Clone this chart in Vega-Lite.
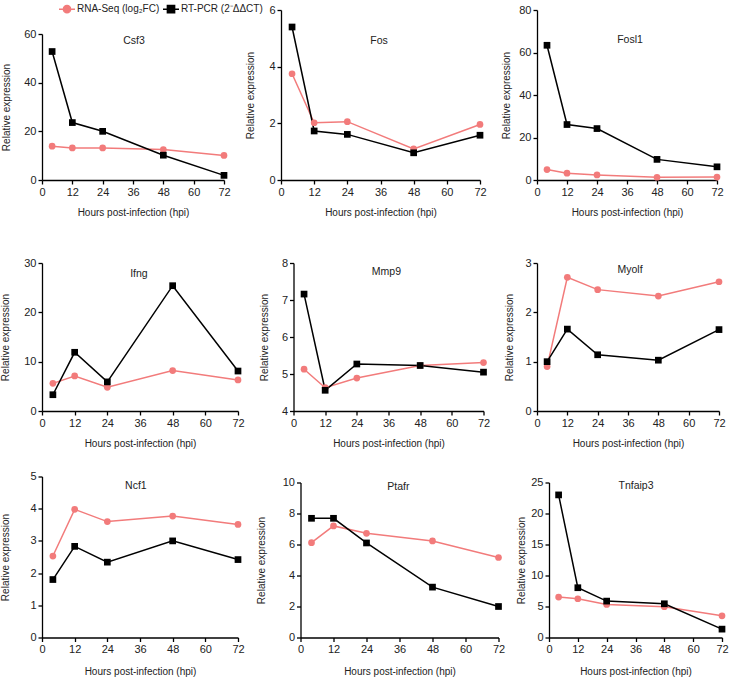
{
"$schema": "https://vega.github.io/schema/vega-lite/v6.json",
"padding": {"top": 0, "left": 0, "right": 2, "bottom": 1},
"background": "white",
"config": {
  "view": {"stroke": null},
  "axis": {"grid": false, "domainColor": "#000", "tickColor": "#000", "domainWidth": 1.3, "tickWidth": 1.3, "tickSize": 4, "labelFont": "Liberation Sans", "labelFontSize": 11, "labelColor": "#222", "labelPadding": 2, "labelFlush": false, "labelOverlap": false, "titleFont": "Liberation Sans", "titleFontSize": 10, "titleFontWeight": "normal", "titleColor": "#222"},
  "axisX": {"titlePadding": 10}
},
"datasets": {"d": [
 {"gene": "Csf3", "hpi": 4, "method": "RNA", "value": 13.9},
 {"gene": "Csf3", "hpi": 12, "method": "RNA", "value": 13.2},
 {"gene": "Csf3", "hpi": 24, "method": "RNA", "value": 13.2},
 {"gene": "Csf3", "hpi": 48, "method": "RNA", "value": 12.5},
 {"gene": "Csf3", "hpi": 72, "method": "RNA", "value": 10.1},
 {"gene": "Csf3", "hpi": 4, "method": "PCR", "value": 52.8},
 {"gene": "Csf3", "hpi": 12, "method": "PCR", "value": 23.6},
 {"gene": "Csf3", "hpi": 24, "method": "PCR", "value": 20.0},
 {"gene": "Csf3", "hpi": 48, "method": "PCR", "value": 10.2},
 {"gene": "Csf3", "hpi": 72, "method": "PCR", "value": 1.9},
 {"gene": "Fos", "hpi": 4, "method": "RNA", "value": 3.75},
 {"gene": "Fos", "hpi": 12, "method": "RNA", "value": 2.02},
 {"gene": "Fos", "hpi": 24, "method": "RNA", "value": 2.06},
 {"gene": "Fos", "hpi": 48, "method": "RNA", "value": 1.1},
 {"gene": "Fos", "hpi": 72, "method": "RNA", "value": 1.96},
 {"gene": "Fos", "hpi": 4, "method": "PCR", "value": 5.4},
 {"gene": "Fos", "hpi": 12, "method": "PCR", "value": 1.73},
 {"gene": "Fos", "hpi": 24, "method": "PCR", "value": 1.61},
 {"gene": "Fos", "hpi": 48, "method": "PCR", "value": 0.96},
 {"gene": "Fos", "hpi": 72, "method": "PCR", "value": 1.58},
 {"gene": "Fosl1", "hpi": 4, "method": "RNA", "value": 4.9},
 {"gene": "Fosl1", "hpi": 12, "method": "RNA", "value": 3.2},
 {"gene": "Fosl1", "hpi": 24, "method": "RNA", "value": 2.4},
 {"gene": "Fosl1", "hpi": 48, "method": "RNA", "value": 1.3},
 {"gene": "Fosl1", "hpi": 72, "method": "RNA", "value": 1.4},
 {"gene": "Fosl1", "hpi": 4, "method": "PCR", "value": 63.4},
 {"gene": "Fosl1", "hpi": 12, "method": "PCR", "value": 26.1},
 {"gene": "Fosl1", "hpi": 24, "method": "PCR", "value": 24.2},
 {"gene": "Fosl1", "hpi": 48, "method": "PCR", "value": 9.7},
 {"gene": "Fosl1", "hpi": 72, "method": "PCR", "value": 6.2},
 {"gene": "Ifng", "hpi": 4, "method": "RNA", "value": 5.6},
 {"gene": "Ifng", "hpi": 12, "method": "RNA", "value": 7.1},
 {"gene": "Ifng", "hpi": 24, "method": "RNA", "value": 4.8},
 {"gene": "Ifng", "hpi": 48, "method": "RNA", "value": 8.2},
 {"gene": "Ifng", "hpi": 72, "method": "RNA", "value": 6.3},
 {"gene": "Ifng", "hpi": 4, "method": "PCR", "value": 3.3},
 {"gene": "Ifng", "hpi": 12, "method": "PCR", "value": 11.9},
 {"gene": "Ifng", "hpi": 24, "method": "PCR", "value": 5.9},
 {"gene": "Ifng", "hpi": 48, "method": "PCR", "value": 25.4},
 {"gene": "Ifng", "hpi": 72, "method": "PCR", "value": 8.1},
 {"gene": "Mmp9", "hpi": 4, "method": "RNA", "value": 5.13},
 {"gene": "Mmp9", "hpi": 12, "method": "RNA", "value": 4.63},
 {"gene": "Mmp9", "hpi": 24, "method": "RNA", "value": 4.89},
 {"gene": "Mmp9", "hpi": 48, "method": "RNA", "value": 5.23},
 {"gene": "Mmp9", "hpi": 72, "method": "RNA", "value": 5.31},
 {"gene": "Mmp9", "hpi": 4, "method": "PCR", "value": 7.16},
 {"gene": "Mmp9", "hpi": 12, "method": "PCR", "value": 4.56},
 {"gene": "Mmp9", "hpi": 24, "method": "PCR", "value": 5.27},
 {"gene": "Mmp9", "hpi": 48, "method": "PCR", "value": 5.23},
 {"gene": "Mmp9", "hpi": 72, "method": "PCR", "value": 5.05},
 {"gene": "Myolf", "hpi": 4, "method": "RNA", "value": 0.9},
 {"gene": "Myolf", "hpi": 12, "method": "RNA", "value": 2.71},
 {"gene": "Myolf", "hpi": 24, "method": "RNA", "value": 2.46},
 {"gene": "Myolf", "hpi": 48, "method": "RNA", "value": 2.33},
 {"gene": "Myolf", "hpi": 72, "method": "RNA", "value": 2.62},
 {"gene": "Myolf", "hpi": 4, "method": "PCR", "value": 1.0},
 {"gene": "Myolf", "hpi": 12, "method": "PCR", "value": 1.66},
 {"gene": "Myolf", "hpi": 24, "method": "PCR", "value": 1.14},
 {"gene": "Myolf", "hpi": 48, "method": "PCR", "value": 1.03},
 {"gene": "Myolf", "hpi": 72, "method": "PCR", "value": 1.65},
 {"gene": "Ncf1", "hpi": 4, "method": "RNA", "value": 2.53},
 {"gene": "Ncf1", "hpi": 12, "method": "RNA", "value": 3.98},
 {"gene": "Ncf1", "hpi": 24, "method": "RNA", "value": 3.6},
 {"gene": "Ncf1", "hpi": 48, "method": "RNA", "value": 3.77},
 {"gene": "Ncf1", "hpi": 72, "method": "RNA", "value": 3.51},
 {"gene": "Ncf1", "hpi": 4, "method": "PCR", "value": 1.8},
 {"gene": "Ncf1", "hpi": 12, "method": "PCR", "value": 2.83},
 {"gene": "Ncf1", "hpi": 24, "method": "PCR", "value": 2.34},
 {"gene": "Ncf1", "hpi": 48, "method": "PCR", "value": 3.0},
 {"gene": "Ncf1", "hpi": 72, "method": "PCR", "value": 2.42},
 {"gene": "Ptafr", "hpi": 4, "method": "RNA", "value": 6.12},
 {"gene": "Ptafr", "hpi": 12, "method": "RNA", "value": 7.2},
 {"gene": "Ptafr", "hpi": 24, "method": "RNA", "value": 6.72},
 {"gene": "Ptafr", "hpi": 48, "method": "RNA", "value": 6.23},
 {"gene": "Ptafr", "hpi": 72, "method": "RNA", "value": 5.16},
 {"gene": "Ptafr", "hpi": 4, "method": "PCR", "value": 7.69},
 {"gene": "Ptafr", "hpi": 12, "method": "PCR", "value": 7.69},
 {"gene": "Ptafr", "hpi": 24, "method": "PCR", "value": 6.1},
 {"gene": "Ptafr", "hpi": 48, "method": "PCR", "value": 3.25},
 {"gene": "Ptafr", "hpi": 72, "method": "PCR", "value": 2.0},
 {"gene": "Tnfaip3", "hpi": 4, "method": "RNA", "value": 6.52},
 {"gene": "Tnfaip3", "hpi": 12, "method": "RNA", "value": 6.25},
 {"gene": "Tnfaip3", "hpi": 24, "method": "RNA", "value": 5.33},
 {"gene": "Tnfaip3", "hpi": 48, "method": "RNA", "value": 4.96},
 {"gene": "Tnfaip3", "hpi": 72, "method": "RNA", "value": 3.5},
 {"gene": "Tnfaip3", "hpi": 4, "method": "PCR", "value": 23.0},
 {"gene": "Tnfaip3", "hpi": 12, "method": "PCR", "value": 8.03},
 {"gene": "Tnfaip3", "hpi": 24, "method": "PCR", "value": 5.87},
 {"gene": "Tnfaip3", "hpi": 48, "method": "PCR", "value": 5.44},
 {"gene": "Tnfaip3", "hpi": 72, "method": "PCR", "value": 1.35}
]},
"data": {"name": "d"},
"spacing": 40,
"vconcat": [
 {"hconcat": [
  {"width": 182, "height": 170,
   "transform": [{"filter": "datum.gene == 'Csf3'"}],
   "encoding": {
     "x": {"field": "hpi", "type": "quantitative", "scale": {"domain": [0, 72], "nice": false}, "axis": {"title": "Hours post-infection (hpi)", "values": [0, 12, 24, 36, 48, 60, 72]}},
     "y": {"field": "value", "type": "quantitative", "scale": {"domain": [0, 60], "nice": false, "range": [170, 24]}, "axis": {"title": "Relative expression", "values": [0, 20, 40, 60], "titlePadding": 12}},
     "color": {"field": "method", "type": "nominal", "scale": {"domain": ["RNA", "PCR"], "range": ["#F27B7B", "#000000"]},
       "legend": {"orient": "none", "legendX": 16, "legendY": -10, "direction": "horizontal", "title": null, "padding": 0, "symbolSize": 256, "symbolStrokeWidth": 1.5, "labelFont": "Liberation Sans", "labelFontSize": 10, "labelColor": "#222", "labelOffset": 1, "columnPadding": 0,
         "labelExpr": "datum.value == 'RNA' ? 'RNA-Seq (log₂FC)' : 'RT-PCR (2⁻ΔΔCT)'",
         "encode": {"symbols": {"update": {
           "shape": {"signal": "datum.value == 'RNA' ? 'M-1,0H1M0.45,0A0.45,0.45,0,1,1,-0.45,0A0.45,0.45,0,1,1,0.45,0Z' : 'M-1,0H1M-0.45,-0.45H0.45V0.45H-0.45Z'"},
           "fill": {"signal": "datum.value == 'RNA' ? '#F27B7B' : '#000000'"},
           "stroke": {"signal": "datum.value == 'RNA' ? '#F27B7B' : '#000000'"},
           "strokeWidth": {"value": 1.5},
           "opacity": {"value": 1}}}}}}
   },
   "layer": [
     {"mark": {"type": "line", "strokeWidth": 1.5}},
     {"mark": {"type": "point", "filled": true, "opacity": 1, "size": 45}, "encoding": {"shape": {"condition": {"test": "datum.method == 'RNA'", "value": "circle"}, "value": "square"}}},
     {"transform": [{"filter": "datum.hpi == 4 && datum.method == 'PCR'"}], "mark": {"type": "text", "fontSize": 10.5, "font": "Liberation Sans"}, "encoding": {"x": {"datum": 36.4}, "y": {"datum": 57}, "text": {"value": "Csf3"}, "color": {"value": "#222"}}}
   ]},
  {"width": 199, "height": 170,
   "transform": [{"filter": "datum.gene == 'Fos'"}],
   "encoding": {
     "x": {"field": "hpi", "type": "quantitative", "scale": {"domain": [0, 72], "nice": false}, "axis": {"title": "Hours post-infection (hpi)", "values": [0, 12, 24, 36, 48, 60, 72]}},
     "y": {"field": "value", "type": "quantitative", "scale": {"domain": [0, 6], "nice": false}, "axis": {"title": "Relative expression", "values": [0, 2, 4, 6], "titlePadding": 13}},
     "color": {"field": "method", "type": "nominal", "scale": {"domain": ["RNA", "PCR"], "range": ["#F27B7B", "#000000"]}, "legend": null}
   },
   "layer": [
     {"mark": {"type": "line", "strokeWidth": 1.5}},
     {"mark": {"type": "point", "filled": true, "opacity": 1, "size": 45}, "encoding": {"shape": {"condition": {"test": "datum.method == 'RNA'", "value": "circle"}, "value": "square"}}},
     {"transform": [{"filter": "datum.hpi == 4 && datum.method == 'PCR'"}], "mark": {"type": "text", "fontSize": 10.5, "font": "Liberation Sans"}, "encoding": {"x": {"datum": 35.5}, "y": {"datum": 4.9}, "text": {"value": "Fos"}, "color": {"value": "#222"}}}
   ]},
  {"width": 180, "height": 170,
   "transform": [{"filter": "datum.gene == 'Fosl1'"}],
   "encoding": {
     "x": {"field": "hpi", "type": "quantitative", "scale": {"domain": [0, 72], "nice": false}, "axis": {"title": "Hours post-infection (hpi)", "values": [0, 12, 24, 36, 48, 60, 72]}},
     "y": {"field": "value", "type": "quantitative", "scale": {"domain": [0, 80], "nice": false}, "axis": {"title": "Relative expression", "values": [0, 20, 40, 60, 80], "titlePadding": 7}},
     "color": {"field": "method", "type": "nominal", "scale": {"domain": ["RNA", "PCR"], "range": ["#F27B7B", "#000000"]}, "legend": null}
   },
   "layer": [
     {"mark": {"type": "line", "strokeWidth": 1.5}},
     {"mark": {"type": "point", "filled": true, "opacity": 1, "size": 45}, "encoding": {"shape": {"condition": {"test": "datum.method == 'RNA'", "value": "circle"}, "value": "square"}}},
     {"transform": [{"filter": "datum.hpi == 4 && datum.method == 'PCR'"}], "mark": {"type": "text", "fontSize": 10.5, "font": "Liberation Sans"}, "encoding": {"x": {"datum": 37.2}, "y": {"datum": 65.8}, "text": {"value": "Fosl1"}, "color": {"value": "#222"}}}
   ]}
 ], "spacing": 14},
 {"vconcat": [
  {"hconcat": [
   {"width": 196, "height": 148,
    "transform": [{"filter": "datum.gene == 'Ifng'"}],
    "encoding": {
      "x": {"field": "hpi", "type": "quantitative", "scale": {"domain": [0, 72], "nice": false}, "axis": {"title": "Hours post-infection (hpi)", "values": [0, 12, 24, 36, 48, 60, 72]}},
      "y": {"field": "value", "type": "quantitative", "scale": {"domain": [0, 30], "nice": false}, "axis": {"title": "Relative expression", "values": [0, 10, 20, 30], "titlePadding": 13}},
      "color": {"field": "method", "type": "nominal", "scale": {"domain": ["RNA", "PCR"], "range": ["#F27B7B", "#000000"]}, "legend": null}
    },
    "layer": [
      {"mark": {"type": "line", "strokeWidth": 1.5}},
      {"mark": {"type": "point", "filled": true, "opacity": 1, "size": 45}, "encoding": {"shape": {"condition": {"test": "datum.method == 'RNA'", "value": "circle"}, "value": "square"}}},
      {"transform": [{"filter": "datum.hpi == 4 && datum.method == 'PCR'"}], "mark": {"type": "text", "fontSize": 10.5, "font": "Liberation Sans"}, "encoding": {"x": {"datum": 35.6}, "y": {"datum": 27.8}, "text": {"value": "Ifng"}, "color": {"value": "#222"}}}
    ]},
   {"width": 190, "height": 148,
    "transform": [{"filter": "datum.gene == 'Mmp9'"}],
    "encoding": {
      "x": {"field": "hpi", "type": "quantitative", "scale": {"domain": [0, 72], "nice": false}, "axis": {"title": "Hours post-infection (hpi)", "values": [0, 12, 24, 36, 48, 60, 72]}},
      "y": {"field": "value", "type": "quantitative", "scale": {"domain": [4, 8], "nice": false, "zero": false}, "axis": {"title": "Relative expression", "values": [4, 5, 6, 7, 8], "titlePadding": 12}},
      "color": {"field": "method", "type": "nominal", "scale": {"domain": ["RNA", "PCR"], "range": ["#F27B7B", "#000000"]}, "legend": null}
    },
    "layer": [
      {"mark": {"type": "line", "strokeWidth": 1.5}},
      {"mark": {"type": "point", "filled": true, "opacity": 1, "size": 45}, "encoding": {"shape": {"condition": {"test": "datum.method == 'RNA'", "value": "circle"}, "value": "square"}}},
      {"transform": [{"filter": "datum.hpi == 4 && datum.method == 'PCR'"}], "mark": {"type": "text", "fontSize": 10.5, "font": "Liberation Sans"}, "encoding": {"x": {"datum": 35.2}, "y": {"datum": 7.76}, "text": {"value": "Mmp9"}, "color": {"value": "#222"}}}
    ]},
   {"width": 182, "height": 148,
    "transform": [{"filter": "datum.gene == 'Myolf'"}],
    "encoding": {
      "x": {"field": "hpi", "type": "quantitative", "scale": {"domain": [0, 72], "nice": false}, "axis": {"title": "Hours post-infection (hpi)", "values": [0, 12, 24, 36, 48, 60, 72]}},
      "y": {"field": "value", "type": "quantitative", "scale": {"domain": [0, 3], "nice": false}, "axis": {"title": "Relative expression", "values": [0, 1, 2, 3], "titlePadding": 10}},
      "color": {"field": "method", "type": "nominal", "scale": {"domain": ["RNA", "PCR"], "range": ["#F27B7B", "#000000"]}, "legend": null}
    },
    "layer": [
      {"mark": {"type": "line", "strokeWidth": 1.5}},
      {"mark": {"type": "point", "filled": true, "opacity": 1, "size": 45}, "encoding": {"shape": {"condition": {"test": "datum.method == 'RNA'", "value": "circle"}, "value": "square"}}},
      {"transform": [{"filter": "datum.hpi == 4 && datum.method == 'PCR'"}], "mark": {"type": "text", "fontSize": 10.5, "font": "Liberation Sans"}, "encoding": {"x": {"datum": 36.8}, "y": {"datum": 2.86}, "text": {"value": "Myolf"}, "color": {"value": "#222"}}}
    ]}
  ], "spacing": 13.5},
  {"hconcat": [
   {"width": 196, "height": 161,
    "transform": [{"filter": "datum.gene == 'Ncf1'"}],
    "encoding": {
      "x": {"field": "hpi", "type": "quantitative", "scale": {"domain": [0, 72], "nice": false}, "axis": {"title": "Hours post-infection (hpi)", "values": [0, 12, 24, 36, 48, 60, 72], "titlePadding": 12}},
      "y": {"field": "value", "type": "quantitative", "scale": {"domain": [0, 5], "nice": false}, "axis": {"title": "Relative expression", "values": [0, 1, 2, 3, 4, 5], "titlePadding": 19}},
      "color": {"field": "method", "type": "nominal", "scale": {"domain": ["RNA", "PCR"], "range": ["#F27B7B", "#000000"]}, "legend": null}
    },
    "layer": [
      {"mark": {"type": "line", "strokeWidth": 1.5}},
      {"mark": {"type": "point", "filled": true, "opacity": 1, "size": 45}, "encoding": {"shape": {"condition": {"test": "datum.method == 'RNA'", "value": "circle"}, "value": "square"}}},
      {"transform": [{"filter": "datum.hpi == 4 && datum.method == 'PCR'"}], "mark": {"type": "text", "fontSize": 10.5, "font": "Liberation Sans"}, "encoding": {"x": {"datum": 34.5}, "y": {"datum": 4.72}, "text": {"value": "Ncf1"}, "color": {"value": "#222"}}}
    ]},
   {"width": 198, "height": 161,
    "transform": [{"filter": "datum.gene == 'Ptafr'"}],
    "encoding": {
      "x": {"field": "hpi", "type": "quantitative", "scale": {"domain": [0, 72], "nice": false}, "axis": {"title": "Hours post-infection (hpi)", "values": [0, 12, 24, 36, 48, 60, 72], "titlePadding": 12}},
      "y": {"field": "value", "type": "quantitative", "scale": {"domain": [0, 10], "nice": false, "range": [161, 6]}, "axis": {"title": "Relative expression", "values": [0, 2, 4, 6, 8, 10], "titlePadding": 16}},
      "color": {"field": "method", "type": "nominal", "scale": {"domain": ["RNA", "PCR"], "range": ["#F27B7B", "#000000"]}, "legend": null}
    },
    "layer": [
      {"mark": {"type": "line", "strokeWidth": 1.5}},
      {"mark": {"type": "point", "filled": true, "opacity": 1, "size": 45}, "encoding": {"shape": {"condition": {"test": "datum.method == 'RNA'", "value": "circle"}, "value": "square"}}},
      {"transform": [{"filter": "datum.hpi == 4 && datum.method == 'PCR'"}], "mark": {"type": "text", "fontSize": 10.5, "font": "Liberation Sans"}, "encoding": {"x": {"datum": 35.6}, "y": {"datum": 9.74}, "text": {"value": "Ptafr"}, "color": {"value": "#222"}}}
    ]},
   {"width": 173, "height": 161,
    "transform": [{"filter": "datum.gene == 'Tnfaip3'"}],
    "encoding": {
      "x": {"field": "hpi", "type": "quantitative", "scale": {"domain": [0, 72], "nice": false}, "axis": {"title": "Hours post-infection (hpi)", "values": [0, 12, 24, 36, 48, 60, 72], "titlePadding": 12}},
      "y": {"field": "value", "type": "quantitative", "scale": {"domain": [0, 25], "nice": false, "range": [161, 6]}, "axis": {"title": "Relative expression", "values": [0, 5, 10, 15, 20, 25], "titlePadding": 4}},
      "color": {"field": "method", "type": "nominal", "scale": {"domain": ["RNA", "PCR"], "range": ["#F27B7B", "#000000"]}, "legend": null}
    },
    "layer": [
      {"mark": {"type": "line", "strokeWidth": 1.5}},
      {"mark": {"type": "point", "filled": true, "opacity": 1, "size": 45}, "encoding": {"shape": {"condition": {"test": "datum.method == 'RNA'", "value": "circle"}, "value": "square"}}},
      {"transform": [{"filter": "datum.hpi == 4 && datum.method == 'PCR'"}], "mark": {"type": "text", "fontSize": 10.5, "font": "Liberation Sans"}, "encoding": {"x": {"datum": 36.2}, "y": {"datum": 24.4}, "text": {"value": "Tnfaip3"}, "color": {"value": "#222"}}}
    ]}
  ], "spacing": 10.5}
 ], "spacing": 22.5}
]
}
